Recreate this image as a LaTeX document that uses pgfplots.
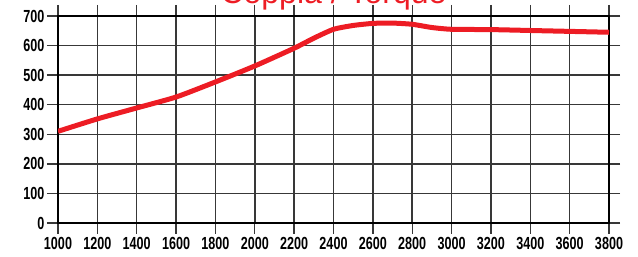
\documentclass[border=0pt]{standalone}
\usepackage{pgfplots}
\pgfplotsset{compat=1.18}
\usepackage{fontspec}
\setmainfont{Liberation Sans}
\newfontfamily\tickfont{Liberation Sans}[FakeStretch=0.72]
\definecolor{torque}{RGB}{237,28,36}
\begin{document}
\begin{tikzpicture}
\begin{axis}[name=main, scale only axis, width=551pt, height=207pt,
  xmin=1000, xmax=3800, ymin=0, ymax=700,
  xtick={1000,1200,...,3800}, ytick={0,100,...,700},
  grid=major, grid style={line width=1.5pt, color=black!78},
  axis line style={line width=1.2pt, black},
  tick align=outside, major tick length=11pt,
  tick style={line width=1.4pt, color=black!78},
  ticklabel style={font=\tickfont\bfseries\fontsize{17.5}{18}\selectfont},
  /pgf/number format/assume math mode=true,
  /pgf/number format/set thousands separator={},
  yticklabel style={xshift=1pt},
]
\addplot[torque, line width=5pt, smooth, tension=0.35] coordinates {
(1000,310) (1200,352) (1400,389) (1600,426) (1800,477) (2000,531) (2200,591)
(2300,625) (2400,655) (2500,668) (2600,675) (2700,676) (2800,672) (2900,661)
(3000,655) (3200,654) (3400,651) (3600,648) (3800,645)
};
\end{axis}
\node[anchor=base, text=torque, font=\fontsize{32}{32}\selectfont] at ([yshift=12pt]main.north) {Coppia / Torque};
\pgfresetboundingbox
\path[use as bounding box] ([xshift=-58pt,yshift=-34pt]main.south west) rectangle ([xshift=29pt,yshift=16pt]main.north east);
\end{tikzpicture}
\end{document}
